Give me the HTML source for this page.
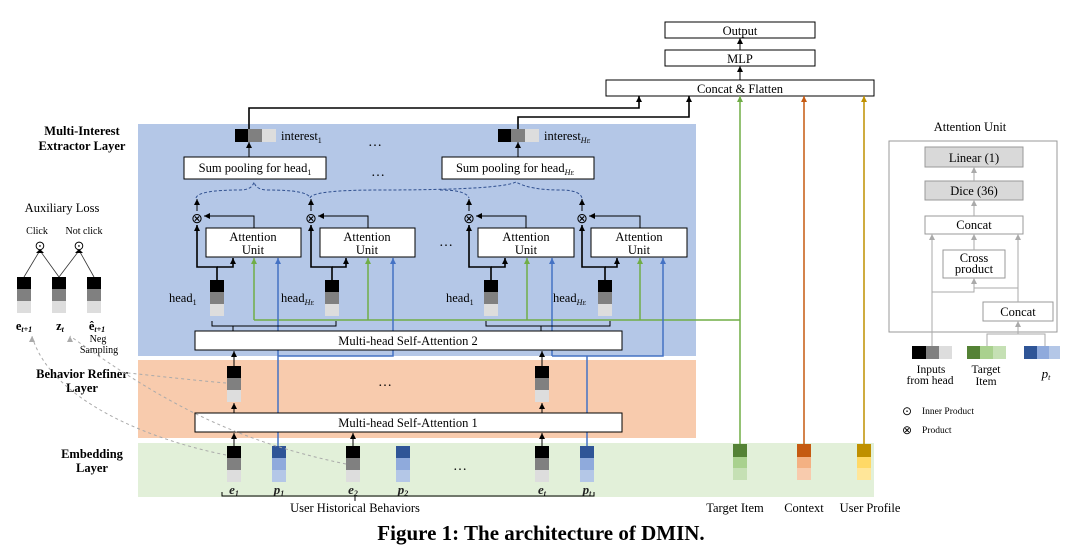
<!DOCTYPE html>
<html><head><meta charset="utf-8"><style>
html,body{margin:0;padding:0;background:#fff;}
svg{display:block;font-family:"Liberation Serif",serif;}
</style></head><body>
<svg width="1080" height="551" viewBox="0 0 1080 551" xmlns="http://www.w3.org/2000/svg">
<defs>
<marker id="ak" markerUnits="userSpaceOnUse" markerWidth="6" markerHeight="6" refX="3" refY="0" viewBox="0 0 6 6"><path d="M0,6 L3,0 L6,6z" fill="#000"/></marker>
<marker id="ag" markerUnits="userSpaceOnUse" markerWidth="6" markerHeight="6" refX="3" refY="0" viewBox="0 0 6 6"><path d="M0,6 L3,0 L6,6z" fill="#70ad47"/></marker>
<marker id="ab" markerUnits="userSpaceOnUse" markerWidth="6" markerHeight="6" refX="3" refY="0" viewBox="0 0 6 6"><path d="M0,6 L3,0 L6,6z" fill="#4472c4"/></marker>
<marker id="ao" markerUnits="userSpaceOnUse" markerWidth="6" markerHeight="6" refX="3" refY="0" viewBox="0 0 6 6"><path d="M0,6 L3,0 L6,6z" fill="#c55a11"/></marker>
<marker id="ay" markerUnits="userSpaceOnUse" markerWidth="6" markerHeight="6" refX="3" refY="0" viewBox="0 0 6 6"><path d="M0,6 L3,0 L6,6z" fill="#bf9000"/></marker>
<marker id="agr" markerUnits="userSpaceOnUse" markerWidth="6" markerHeight="6" refX="3" refY="0" viewBox="0 0 6 6"><path d="M0,6 L3,0 L6,6z" fill="#aaa"/></marker>
<marker id="al" markerUnits="userSpaceOnUse" markerWidth="6" markerHeight="6" refX="0" refY="3" viewBox="0 0 6 6"><path d="M6,0 L0,3 L6,6z" fill="#000"/></marker>
</defs>

<rect x="138" y="124" width="558" height="232" fill="#b4c7e7"/>
<rect x="138" y="360" width="558" height="78" fill="#f8cbad"/>
<rect x="138" y="443" width="736" height="54" fill="#e2f0d9"/>

<g fill="#fff" stroke="#000" stroke-width="1">
<rect x="665" y="22" width="150" height="16"/>
<rect x="665" y="50" width="150" height="16"/>
<rect x="606" y="80" width="268" height="16"/>
</g>
<g font-size="12.5" text-anchor="middle">
<text x="740" y="35">Output</text>
<text x="740" y="63">MLP</text>
<text x="740" y="93">Concat &amp; Flatten</text>
</g>
<line x1="740" y1="50" x2="740" y2="38" stroke="#000" marker-end="url(#ak)"/>
<line x1="740" y1="80" x2="740" y2="66" stroke="#000" marker-end="url(#ak)"/>

<polyline points="249,129 249,108 639,108 639,96" fill="none" stroke="#000" stroke-width="1.6" marker-end="url(#ak)"/>
<polyline points="518,129 518,117 689,117 689,96" fill="none" stroke="#000" stroke-width="1.6" marker-end="url(#ak)"/>
<line x1="740" y1="444" x2="740" y2="96" stroke="#70ad47" stroke-width="1.5" marker-end="url(#ag)"/>
<line x1="804" y1="444" x2="804" y2="96" stroke="#c55a11" stroke-width="1.5" marker-end="url(#ao)"/>
<line x1="864" y1="444" x2="864" y2="96" stroke="#bf9000" stroke-width="1.5" marker-end="url(#ay)"/>

<rect x="235" y="129" width="13" height="13" fill="#000"/><rect x="248" y="129" width="14" height="13" fill="#808080"/><rect x="262" y="129" width="14" height="13" fill="#ddd"/>
<text x="281" y="140" font-size="12.5">interest<tspan font-size="8" dy="3">1</tspan></text>
<rect x="498" y="129" width="13" height="13" fill="#000"/><rect x="511" y="129" width="14" height="13" fill="#808080"/><rect x="525" y="129" width="14" height="13" fill="#ddd"/>
<text x="544" y="140" font-size="12.5">interest<tspan font-size="8" dy="3" font-style="italic">H<tspan font-size="6">E</tspan></tspan></text>
<text x="375" y="146" font-size="14" text-anchor="middle">…</text>

<rect x="184" y="157" width="142" height="22" fill="#fff" stroke="#000"/>
<text x="255" y="172" font-size="12.5" text-anchor="middle">Sum pooling for head<tspan font-size="8" dy="3">1</tspan></text>
<rect x="442" y="157" width="152" height="22" fill="#fff" stroke="#000"/>
<text x="515" y="172" font-size="12.5" text-anchor="middle">Sum pooling for head<tspan font-size="8" dy="3" font-style="italic">H<tspan font-size="6">E</tspan></tspan></text>
<text x="378" y="176" font-size="14" text-anchor="middle">…</text>
<line x1="249" y1="157" x2="249" y2="142" stroke="#000" marker-end="url(#ak)"/>
<line x1="518" y1="157" x2="518" y2="142" stroke="#000" marker-end="url(#ak)"/>

<path d="M196,198 Q198,190 240,190 Q252,190 254,182 Q256,190 268,190 Q308,190 310,198" fill="none" stroke="#2f4f8f" stroke-dasharray="3,2"/>
<path d="M310,198 Q312,190 380,190 Q500,190 516,182 Q530,190 560,190 Q580,190 582,198" fill="none" stroke="#2f4f8f" stroke-dasharray="3,2"/>
<path d="M440,190 Q466,190 469,198" fill="none" stroke="#2f4f8f" stroke-dasharray="3,2"/>

<g font-size="12.5" text-anchor="middle">
<rect x="206" y="228" width="95" height="29" fill="#fff" stroke="#000"/>
<text x="253" y="241">Attention</text><text x="253" y="254">Unit</text>
<rect x="320" y="228" width="95" height="29" fill="#fff" stroke="#000"/>
<text x="367" y="241">Attention</text><text x="367" y="254">Unit</text>
<rect x="478" y="228" width="96" height="29" fill="#fff" stroke="#000"/>
<text x="526" y="241">Attention</text><text x="526" y="254">Unit</text>
<rect x="591" y="228" width="96" height="29" fill="#fff" stroke="#000"/>
<text x="639" y="241">Attention</text><text x="639" y="254">Unit</text>
<text x="446" y="246" font-size="14">…</text>
</g>
<g font-size="14" text-anchor="middle">
<text x="197" y="223">⊗</text><text x="311" y="223">⊗</text><text x="469" y="223">⊗</text><text x="582" y="223">⊗</text>
</g>
<g stroke="#000" fill="none" stroke-width="1">
<line x1="197" y1="211" x2="197" y2="199" marker-end="url(#ak)"/>
<line x1="311" y1="211" x2="311" y2="199" marker-end="url(#ak)"/>
<line x1="469" y1="211" x2="469" y2="199" marker-end="url(#ak)"/>
<line x1="582" y1="211" x2="582" y2="199" marker-end="url(#ak)"/>
<polyline points="254,228 254,216 204,216" marker-end="url(#al)"/>
<polyline points="368,228 368,216 318,216" marker-end="url(#al)"/>
<polyline points="526,228 526,216 476,216" marker-end="url(#al)"/>
<polyline points="640,228 640,216 589,216" marker-end="url(#al)"/>
</g>
<g stroke="#000" fill="none" stroke-width="1.6">
<polyline points="217,280 217,267 197,267 197,225" marker-end="url(#ak)"/><polyline points="217,267 233,267 233,258" marker-end="url(#ak)"/>
<polyline points="332,280 332,267 311,267 311,225" marker-end="url(#ak)"/><polyline points="332,267 346,267 346,258" marker-end="url(#ak)"/>
<polyline points="491,280 491,267 469,267 469,225" marker-end="url(#ak)"/><polyline points="491,267 505,267 505,258" marker-end="url(#ak)"/>
<polyline points="605,280 605,267 582,267 582,225" marker-end="url(#ak)"/><polyline points="605,267 617,267 617,258" marker-end="url(#ak)"/>
</g>
<g>
<rect x="210" y="280" width="14" height="12" fill="#000"/><rect x="210" y="292" width="14" height="12" fill="#808080"/><rect x="210" y="304" width="14" height="12" fill="#ddd"/>
<rect x="325" y="280" width="14" height="12" fill="#000"/><rect x="325" y="292" width="14" height="12" fill="#808080"/><rect x="325" y="304" width="14" height="12" fill="#ddd"/>
<rect x="484" y="280" width="14" height="12" fill="#000"/><rect x="484" y="292" width="14" height="12" fill="#808080"/><rect x="484" y="304" width="14" height="12" fill="#ddd"/>
<rect x="598" y="280" width="14" height="12" fill="#000"/><rect x="598" y="292" width="14" height="12" fill="#808080"/><rect x="598" y="304" width="14" height="12" fill="#ddd"/>
</g>
<g font-size="12.5">
<text x="169" y="302">head<tspan font-size="8" dy="3">1</tspan></text>
<text x="281" y="302">head<tspan font-size="8" dy="3" font-style="italic">H<tspan font-size="6">E</tspan></tspan></text>
<text x="446" y="302">head<tspan font-size="8" dy="3">1</tspan></text>
<text x="553" y="302">head<tspan font-size="8" dy="3" font-style="italic">H<tspan font-size="6">E</tspan></tspan></text>
</g>
<g stroke="#70ad47" stroke-width="1.5" fill="none">
<polyline points="740,320 254,320"/>
<line x1="254" y1="320" x2="254" y2="258" marker-end="url(#ag)"/>
<line x1="368" y1="320" x2="368" y2="258" marker-end="url(#ag)"/>
<line x1="527" y1="320" x2="527" y2="258" marker-end="url(#ag)"/>
<line x1="640" y1="320" x2="640" y2="258" marker-end="url(#ag)"/>
</g>
<g stroke="#4472c4" stroke-width="1.5" fill="none">
<line x1="278" y1="447" x2="278" y2="258" marker-end="url(#ab)"/>
<polyline points="278,356 393,356 393,258" marker-end="url(#ab)"/>
<line x1="587" y1="447" x2="587" y2="356"/>
<polyline points="552,356 663,356 663,258" marker-end="url(#ab)"/>
<line x1="552" y1="356" x2="552" y2="258" marker-end="url(#ab)"/>
</g>
<g stroke="#000" fill="none" stroke-width="1">
<polyline points="212,321 212,326 336,326 336,321"/><line x1="233" y1="326" x2="233" y2="331"/>
<polyline points="486,321 486,326 610,326 610,321"/><line x1="541" y1="326" x2="541" y2="331"/>
</g>
<rect x="195" y="331" width="427" height="19" fill="#fff" stroke="#000"/>
<text x="408" y="345" font-size="12.5" text-anchor="middle">Multi-head Self-Attention 2</text>

<g>
<rect x="227" y="366" width="14" height="12" fill="#000"/><rect x="227" y="378" width="14" height="12" fill="#808080"/><rect x="227" y="390" width="14" height="12" fill="#ddd"/>
<rect x="535" y="366" width="14" height="12" fill="#000"/><rect x="535" y="378" width="14" height="12" fill="#808080"/><rect x="535" y="390" width="14" height="12" fill="#ddd"/>
</g>
<text x="385" y="386" font-size="14" text-anchor="middle">…</text>
<g stroke="#000" stroke-width="1">
<line x1="234" y1="366" x2="234" y2="351" marker-end="url(#ak)"/>
<line x1="542" y1="366" x2="542" y2="351" marker-end="url(#ak)"/>
<line x1="234" y1="413" x2="234" y2="403" marker-end="url(#ak)"/>
<line x1="542" y1="413" x2="542" y2="403" marker-end="url(#ak)"/>
<line x1="234" y1="446" x2="234" y2="433" marker-end="url(#ak)"/>
<line x1="353" y1="446" x2="353" y2="433" marker-end="url(#ak)"/>
<line x1="542" y1="446" x2="542" y2="433" marker-end="url(#ak)"/>
</g>
<rect x="195" y="413" width="427" height="19" fill="#fff" stroke="#000"/>
<text x="408" y="427" font-size="12.5" text-anchor="middle">Multi-head Self-Attention 1</text>

<g>
<rect x="227" y="446" width="14" height="12" fill="#000"/><rect x="227" y="458" width="14" height="12" fill="#808080"/><rect x="227" y="470" width="14" height="12" fill="#ddd"/>
<rect x="346" y="446" width="14" height="12" fill="#000"/><rect x="346" y="458" width="14" height="12" fill="#808080"/><rect x="346" y="470" width="14" height="12" fill="#ddd"/>
<rect x="535" y="446" width="14" height="12" fill="#000"/><rect x="535" y="458" width="14" height="12" fill="#808080"/><rect x="535" y="470" width="14" height="12" fill="#ddd"/>
<rect x="272" y="446" width="14" height="12" fill="#2f5597"/><rect x="272" y="458" width="14" height="12" fill="#8faadc"/><rect x="272" y="470" width="14" height="12" fill="#b4c7e7"/>
<rect x="396" y="446" width="14" height="12" fill="#2f5597"/><rect x="396" y="458" width="14" height="12" fill="#8faadc"/><rect x="396" y="470" width="14" height="12" fill="#b4c7e7"/>
<rect x="580" y="446" width="14" height="12" fill="#2f5597"/><rect x="580" y="458" width="14" height="12" fill="#8faadc"/><rect x="580" y="470" width="14" height="12" fill="#b4c7e7"/>
<rect x="733" y="444" width="14" height="13" fill="#548235"/><rect x="733" y="457" width="14" height="11" fill="#a9d18e"/><rect x="733" y="468" width="14" height="12" fill="#c5e0b4"/>
<rect x="797" y="444" width="14" height="13" fill="#c55a11"/><rect x="797" y="457" width="14" height="11" fill="#f4b183"/><rect x="797" y="468" width="14" height="12" fill="#f8cbad"/>
<rect x="857" y="444" width="14" height="13" fill="#bf9000"/><rect x="857" y="457" width="14" height="11" fill="#ffd966"/><rect x="857" y="468" width="14" height="12" fill="#ffe699"/>
</g>
<text x="460" y="470" font-size="14" text-anchor="middle">…</text>
<g font-size="13" font-style="italic" text-anchor="middle" font-weight="bold" fill="#222">
<text x="234" y="494">e<tspan font-size="8" dy="2">1</tspan></text>
<text x="279" y="494">p<tspan font-size="8" dy="2">1</tspan></text>
<text x="353" y="494">e<tspan font-size="8" dy="2">2</tspan></text>
<text x="403" y="494">p<tspan font-size="8" dy="2">2</tspan></text>
<text x="542" y="494">e<tspan font-size="8" dy="2">t</tspan></text>
<text x="587" y="494">p<tspan font-size="8" dy="2">t</tspan></text>
</g>
<polyline points="222,492 222,496 594,496 594,492" fill="none" stroke="#000"/>
<line x1="355" y1="496" x2="355" y2="501" stroke="#000"/>
<g font-size="12.5" text-anchor="middle">
<text x="355" y="512">User Historical Behaviors</text>
<text x="735" y="512">Target Item</text>
<text x="804" y="512">Context</text>
<text x="870" y="512">User Profile</text>
</g>
<text x="541" y="540" font-size="21" font-weight="bold" text-anchor="middle">Figure 1: The architecture of DMIN.</text>

<g font-size="12.5" font-weight="bold" text-anchor="middle">
<text x="82" y="135">Multi-Interest</text>
<text x="82" y="150">Extractor Layer</text>
<text x="82" y="378">Behavior Refiner</text>
<text x="82" y="392">Layer</text>
<text x="92" y="458">Embedding</text>
<text x="92" y="472">Layer</text>
</g>
<text x="62" y="212" font-size="12.5" text-anchor="middle">Auxiliary Loss</text>
<text x="37" y="234" font-size="10" text-anchor="middle">Click</text>
<text x="84" y="234" font-size="10" text-anchor="middle">Not click</text>
<text x="40" y="250" font-size="13" text-anchor="middle">⊙</text>
<text x="79" y="250" font-size="13" text-anchor="middle">⊙</text>
<g stroke="#333" stroke-width="0.8" fill="none">
<line x1="24" y1="277" x2="39" y2="252"/>
<line x1="59" y1="277" x2="41" y2="252"/>
<line x1="59" y1="277" x2="78" y2="252"/>
<line x1="94" y1="277" x2="80" y2="252"/>
</g>
<path d="M36,253 L40,249 L44,253z M75,253 L79,249 L83,253z" fill="#000"/>
<g>
<rect x="17" y="277" width="14" height="12" fill="#000"/><rect x="17" y="289" width="14" height="12" fill="#808080"/><rect x="17" y="301" width="14" height="12" fill="#ddd"/>
<rect x="52" y="277" width="14" height="12" fill="#000"/><rect x="52" y="289" width="14" height="12" fill="#808080"/><rect x="52" y="301" width="14" height="12" fill="#ddd"/>
<rect x="87" y="277" width="14" height="12" fill="#000"/><rect x="87" y="289" width="14" height="12" fill="#808080"/><rect x="87" y="301" width="14" height="12" fill="#ddd"/>
</g>
<g font-size="12.5" font-weight="bold" text-anchor="middle">
<text x="24" y="330">e<tspan font-size="8" dy="2" font-style="italic">t+1</tspan></text>
<text x="60" y="330">z<tspan font-size="8" dy="2" font-style="italic">t</tspan></text>
<text x="97" y="330">ê<tspan font-size="8" dy="2" font-style="italic">t+1</tspan></text>
</g>
<text x="98" y="342" font-size="10" text-anchor="middle">Neg</text>
<text x="99" y="353" font-size="10" text-anchor="middle">Sampling</text>
<g stroke="#aaa" stroke-dasharray="3,3" fill="none">
<path d="M226,455 C150,440 50,400 32,336" marker-end="url(#agr)"/>
<path d="M346,464 C230,440 160,400 70,336" marker-end="url(#agr)"/>
<path d="M226,383 C190,380 140,374 118,372"/>
</g>

<text x="970" y="131" font-size="12.5" text-anchor="middle">Attention Unit</text>
<rect x="889" y="141" width="168" height="191" fill="#fff" stroke="#999"/>
<g stroke="#999" fill="#d9d9d9">
<rect x="925" y="147" width="98" height="20"/>
<rect x="925" y="181" width="98" height="19"/>
</g>
<g stroke="#999" fill="#fff">
<rect x="925" y="216" width="98" height="18"/>
<rect x="943" y="250" width="62" height="28"/>
<rect x="983" y="302" width="70" height="19"/>
</g>
<g font-size="12.5" text-anchor="middle">
<text x="974" y="162">Linear (1)</text>
<text x="974" y="195">Dice (36)</text>
<text x="974" y="229">Concat</text>
<text x="974" y="262">Cross</text>
<text x="974" y="273">product</text>
<text x="1018" y="316">Concat</text>
</g>
<g stroke="#aaa" fill="none">
<line x1="974" y1="181" x2="974" y2="167" marker-end="url(#agr)"/>
<line x1="974" y1="216" x2="974" y2="200" marker-end="url(#agr)"/>
<line x1="974" y1="250" x2="974" y2="234" marker-end="url(#agr)"/>
<line x1="932" y1="346" x2="932" y2="234" marker-end="url(#agr)"/>
<line x1="1018" y1="302" x2="1018" y2="234" marker-end="url(#agr)"/>
<polyline points="932,292 974,292 974,278" marker-end="url(#agr)"/>
<polyline points="1018,288 974,288"/>
<line x1="1018" y1="334" x2="1018" y2="321" marker-end="url(#agr)"/>
<polyline points="987,346 987,334 1045,334 1045,346"/>
</g>
<g>
<rect x="912" y="346" width="14" height="13" fill="#000"/><rect x="926" y="346" width="13" height="13" fill="#808080"/><rect x="939" y="346" width="13" height="13" fill="#ddd"/>
<rect x="967" y="346" width="13" height="13" fill="#548235"/><rect x="980" y="346" width="13" height="13" fill="#a9d18e"/><rect x="993" y="346" width="13" height="13" fill="#c5e0b4"/>
<rect x="1024" y="346" width="13" height="13" fill="#2f5597"/><rect x="1037" y="346" width="12" height="13" fill="#8faadc"/><rect x="1049" y="346" width="11" height="13" fill="#b4c7e7"/>
</g>
<g font-size="11.5" text-anchor="middle">
<text x="931" y="373">Inputs</text><text x="930" y="384">from head</text>
<text x="986" y="373">Target</text><text x="986" y="385">Item</text>
<text x="1046" y="378" font-style="italic" font-size="13">p<tspan font-size="8" dy="2">t</tspan></text>
</g>
<text x="902" y="415" font-size="12">⊙</text><text x="922" y="414" font-size="9.5">Inner Product</text>
<text x="902" y="434" font-size="12">⊗</text><text x="922" y="433" font-size="9.5">Product</text>
</svg>
</body></html>
